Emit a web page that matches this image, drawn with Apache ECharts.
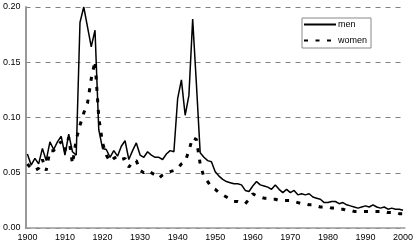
<!DOCTYPE html>
<html>
<head>
<meta charset="utf-8">
<script src="https://cdn.jsdelivr.net/npm/echarts@6/dist/echarts.min.js"></script>
<style>html,body{margin:0;padding:0;background:#fff}#c{width:416px;height:244px}</style>
</head>
<body>
<div id="c"></div>
<script>
var years = [];
for (var y = 1900; y <= 2000; y++) years.push(String(y));

var men = [
0.067,0.057,0.063,0.058,0.072,0.061,0.078,0.071,0.078,0.083,
0.066,0.085,0.069,0.066,0.186,0.200,0.182,0.164,0.179,0.089,
0.072,0.071,0.064,0.070,0.065,0.074,0.079,0.062,0.070,0.077,
0.066,0.064,0.069,0.066,0.064,0.064,0.062,0.067,0.070,0.069,
0.117,0.134,0.102,0.120,0.189,0.130,0.068,0.064,0.061,0.060,
0.051,0.047,0.044,0.042,0.041,0.040,0.040,0.039,0.034,0.033,
0.038,0.042,0.039,0.038,0.037,0.035,0.039,0.035,0.032,0.035,
0.032,0.034,0.030,0.031,0.030,0.031,0.028,0.027,0.026,0.023,
0.023,0.024,0.024,0.022,0.023,0.021,0.020,0.019,0.018,0.019,
0.020,0.019,0.021,0.019,0.018,0.019,0.017,0.018,0.017,0.017,
0.016];

var women = [
0.058,0.054,0.052,0.054,0.062,0.052,0.070,0.070,0.075,0.078,
0.070,0.082,0.058,0.080,0.093,0.104,0.113,0.135,0.151,0.100,
0.077,0.066,0.060,0.063,0.065,0.062,0.063,0.055,0.060,0.061,
0.052,0.050,0.052,0.050,0.048,0.045,0.048,0.050,0.051,0.052,
0.054,0.058,0.060,0.070,0.082,0.080,0.058,0.046,0.042,0.037,
0.035,0.032,0.030,0.028,0.026,0.024,0.024,0.023,0.022,0.026,
0.031,0.029,0.028,0.027,0.027,0.026,0.026,0.025,0.025,0.025,
0.025,0.024,0.023,0.022,0.022,0.021,0.021,0.020,0.019,0.019,
0.019,0.018,0.018,0.017,0.017,0.016,0.016,0.015,0.015,0.015,
0.015,0.015,0.015,0.015,0.015,0.015,0.014,0.014,0.014,0.013,
0.013];

var font = 'Liberation Sans, Arial, sans-serif';
var chart = echarts.init(document.getElementById('c'), null, {renderer: 'canvas'});
chart.setOption({
  animation: false,
  backgroundColor: '#fff',
  grid: {left: 22, right: 7, top: 7, bottom: 16, containLabel: false},
  legend: {
    orient: 'vertical',
    left: 302, top: 18,
    padding: [2, 4, 3, 1],
    itemWidth: 32, itemHeight: 9, itemGap: 7,
    borderColor: '#888', borderWidth: 1,
    backgroundColor: '#fff',
    itemStyle: {opacity: 0},
    textStyle: {fontFamily: font, fontSize: 9, color: '#000', padding: [0, 0, 0, -3]},
    data: ['men', 'women']
  },
  xAxis: {
    type: 'category',
    data: years,
    boundaryGap: true,
    axisLine: {lineStyle: {color: '#999', width: 1.5}},
    axisTick: {interval: 0, length: 3, lineStyle: {color: '#999'}},
    axisLabel: {interval: 9, fontFamily: font, fontSize: 9, color: '#000', margin: 5},
    splitLine: {show: false}
  },
  yAxis: {
    type: 'value',
    min: 0, max: 0.2, interval: 0.05,
    axisLine: {show: true, lineStyle: {color: '#999', width: 2}},
    axisTick: {show: false},
    axisLabel: {fontFamily: font, fontSize: 9, color: '#000', margin: 5,
      formatter: function (v) { return v.toFixed(2); }},
    splitLine: {show: true, lineStyle: {color: '#808080', width: 1, type: [5, 5]}}
  },
  series: [
    {name: 'men', type: 'line', data: men, symbol: 'none', showSymbol: false,
     lineStyle: {color: '#000', width: 1.5}, itemStyle: {color: '#000'}, z: 3},
    {name: 'women', type: 'line', data: women, symbol: 'none', showSymbol: false,
     lineStyle: {color: '#000', width: 3, type: [4, 7.5]}, itemStyle: {color: '#000'}, z: 2}
  ]
});
</script>
</body>
</html>
